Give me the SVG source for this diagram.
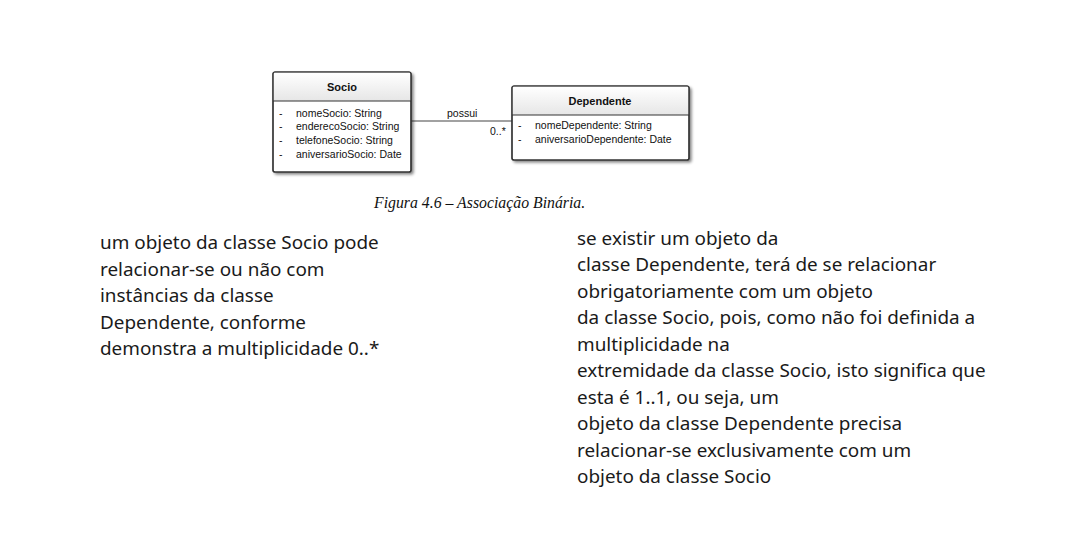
<svg xmlns="http://www.w3.org/2000/svg" width="1070" height="545" viewBox="0 0 1070 545">
<defs>
<linearGradient id="hdr" x1="0" y1="0" x2="0" y2="1">
<stop offset="0" stop-color="#ffffff"/>
<stop offset="1" stop-color="#e6e6e6"/>
</linearGradient>
<filter id="sh" x="-10%" y="-10%" width="130%" height="130%">
<feGaussianBlur in="SourceAlpha" stdDeviation="1.5"/>
<feOffset dx="2" dy="2"/>
<feComponentTransfer><feFuncA type="linear" slope="0.5"/></feComponentTransfer>
<feMerge><feMergeNode/><feMergeNode in="SourceGraphic"/></feMerge>
</filter>
</defs>
<style>
.box{fill:#fff;stroke:#333;stroke-width:1.2}
.hd{fill:url(#hdr)}
.sep{stroke:#333;stroke-width:1}
.t{font-family:"Liberation Sans",Arial,sans-serif;font-size:10.5px;fill:#111}
.b{font-weight:bold;text-anchor:middle;font-size:11px}
.cap{font-family:"Liberation Serif","Times New Roman",serif;font-style:italic;font-size:15.8px;fill:#111}
.p{font-family:"Noto Sans","Open Sans",sans-serif;font-size:18.9px;fill:#1a1a1a}
.ln{stroke:#444;stroke-width:1.2;fill:none}
</style>
<rect width="1070" height="545" fill="#fff"/>
<g id="connectors">
<line class="ln" x1="411" y1="121" x2="512" y2="121"/>
<text class="t" x="447" y="117">possui</text>
<text class="t" x="490" y="135">0..*</text>
</g>
<g id="socio">
<g filter="url(#sh)">
<rect class="box" x="273" y="72" width="138" height="100" rx="2"/>
</g>
<rect class="hd" x="273.6" y="72.6" width="136.8" height="28.4"/>
<line class="sep" x1="273" y1="101" x2="411" y2="101"/>
<rect x="273" y="72" width="138" height="100" rx="2" fill="none" stroke="#333" stroke-width="1.2"/>
<text class="t b" x="342" y="91">Socio</text>
<text class="t" x="279" y="117">-</text><text class="t" x="296" y="117">nomeSocio: String</text>
<text class="t" x="279" y="130">-</text><text class="t" x="296" y="130">enderecoSocio: String</text>
<text class="t" x="279" y="144">-</text><text class="t" x="296" y="144">telefoneSocio: String</text>
<text class="t" x="279" y="158">-</text><text class="t" x="296" y="158">aniversarioSocio: Date</text>
</g>
<g id="dependente">
<g filter="url(#sh)">
<rect class="box" x="512" y="86" width="177" height="74" rx="2"/>
</g>
<rect class="hd" x="512.6" y="86.6" width="175.8" height="28.4"/>
<line class="sep" x1="512" y1="115" x2="689" y2="115"/>
<rect x="512" y="86" width="177" height="74" rx="2" fill="none" stroke="#333" stroke-width="1.2"/>
<text class="t b" x="600" y="105">Dependente</text>
<text class="t" x="518" y="129">-</text><text class="t" x="535" y="129">nomeDependente: String</text>
<text class="t" x="518" y="143">-</text><text class="t" x="535" y="143">aniversarioDependente: Date</text>
</g>
<text class="cap" x="374" y="208">Figura 4.6 – Associação Binária.</text>
<g id="left-text">
<text class="p" x="100" y="249">um objeto da classe Socio pode</text>
<text class="p" x="100" y="276">relacionar-se ou não com</text>
<text class="p" x="100" y="302">instâncias da classe</text>
<text class="p" x="100" y="329">Dependente, conforme</text>
<text class="p" x="100" y="355">demonstra a multiplicidade 0..*</text>
</g>
<g id="right-text">
<text class="p" x="577" y="245">se existir um objeto da</text>
<text class="p" x="577" y="271">classe Dependente, terá de se relacionar</text>
<text class="p" x="577" y="298">obrigatoriamente com um objeto</text>
<text class="p" x="577" y="324">da classe Socio, pois, como não foi definida a</text>
<text class="p" x="577" y="351">multiplicidade na</text>
<text class="p" x="577" y="377">extremidade da classe Socio, isto significa que</text>
<text class="p" x="577" y="404">esta é 1..1, ou seja, um</text>
<text class="p" x="577" y="430">objeto da classe Dependente precisa</text>
<text class="p" x="577" y="457">relacionar-se exclusivamente com um</text>
<text class="p" x="577" y="483">objeto da classe Socio</text>
</g>
</svg>
